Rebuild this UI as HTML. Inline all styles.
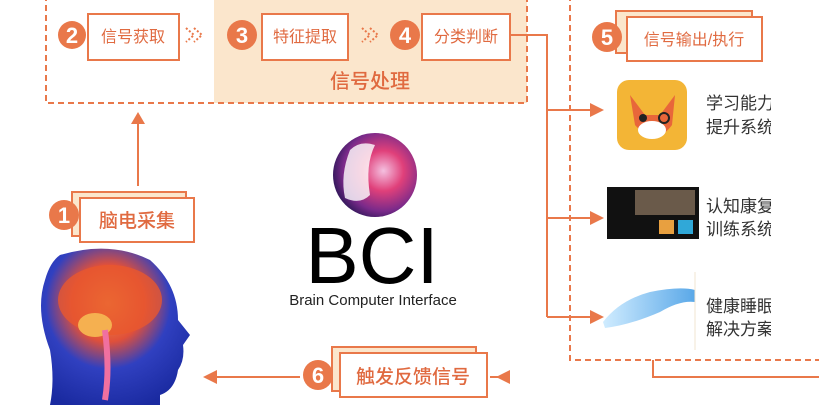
<!DOCTYPE html>
<html><head><meta charset="utf-8"><style>
html,body{margin:0;padding:0;background:#fff;width:819px;height:411px;overflow:hidden}
text{font-family:"Liberation Sans","Noto Sans CJK SC",sans-serif}
</style></head><body>
<svg width="819" height="411" viewBox="0 0 819 411" xmlns="http://www.w3.org/2000/svg">
<defs>
<radialGradient id="sph" cx="0.6" cy="0.45" r="0.6">
<stop offset="0" stop-color="#f4c0e0"/><stop offset="0.4" stop-color="#e0407a"/><stop offset="0.8" stop-color="#7a2a8a"/><stop offset="1" stop-color="#3a1a60"/></radialGradient>
<radialGradient id="head" cx="0.45" cy="0.35" r="0.7">
<stop offset="0" stop-color="#f3a040"/><stop offset="0.35" stop-color="#e0503a"/><stop offset="0.6" stop-color="#3040c0"/><stop offset="1" stop-color="#1a2aa0"/></radialGradient>
<linearGradient id="mask" x1="0" x2="1"><stop offset="0" stop-color="#d0ecff"/><stop offset="1" stop-color="#5aa8e8"/></linearGradient>
</defs>
<rect x="214" y="-5" width="313" height="108" fill="#fbe6cc"/>
<path d="M46 -5 V103 H527 V-5" fill="none" stroke="#e9784a" stroke-width="2" stroke-dasharray="6,4"/>
<path d="M570 -5 V360 H830" fill="none" stroke="#e9784a" stroke-width="2" stroke-dasharray="6,4"/>
<g fill="none" stroke="#e9784a" stroke-width="2">
<rect x="88" y="14" width="91" height="46" fill="#fff"/>
<rect x="262" y="14" width="86" height="46" fill="#fff"/>
<rect x="422" y="14" width="88" height="46" fill="#fff"/>
<rect x="616" y="11" width="136" height="42" fill="#fbe6cc"/>
<rect x="627" y="17" width="135" height="44" fill="#fff"/>
<rect x="72" y="192" width="114" height="44" fill="#fbe6cc"/>
<rect x="80" y="198" width="114" height="44" fill="#fff"/>
<rect x="332" y="347" width="144" height="44" fill="#fbe6cc"/>
<rect x="340" y="353" width="147" height="44" fill="#fff"/>
<path d="M510 35 H547 V317 M547 110 H590 M547 218 H590 M547 317 H590"/>
<path d="M819 377 H653 V360 M490 377 H510"/>
<path d="M300 377 H215"/>
<path d="M138 186 V122"/>
</g>
<g fill="#e9784a">
<polygon points="604,110 590,103 590,117"/>
<polygon points="604,218 590,211 590,225"/>
<polygon points="604,317 590,310 590,324"/>
<polygon points="496,377 510,370 510,384"/>
<polygon points="203,377 217,370 217,384"/>
<polygon points="138,112 131,124 145,124"/>
<circle cx="72" cy="35" r="14"/><circle cx="242" cy="35" r="15"/><circle cx="405" cy="35" r="15"/>
<circle cx="607" cy="37" r="15"/><circle cx="64" cy="215" r="15"/><circle cx="318" cy="375" r="15"/>
</g>
<g fill="#fff" font-size="22" font-weight="bold" text-anchor="middle">
<text x="72" y="43">2</text><text x="242" y="43">3</text><text x="405" y="43">4</text>
<text x="607" y="45">5</text><text x="64" y="223">1</text><text x="318" y="383">6</text>
</g>
<g fill="none" stroke="#e9784a" stroke-width="2" stroke-dasharray="2,2">
<path d="M186 28 L194 35 L186 42 M194 28 L202 35 L194 42"/>
<path d="M362 28 L370 35 L362 42 M370 28 L378 35 L370 42"/>
</g>
<g fill="#e06a40" font-size="16">
<text x="133" y="42" text-anchor="middle">信号获取</text>
<text x="305" y="42" text-anchor="middle">特征提取</text>
<text x="466" y="42" text-anchor="middle">分类判断</text>
<text x="694" y="45" text-anchor="middle" font-size="16">信号输出/执行</text>
<text x="137" y="227" text-anchor="middle" font-size="19" font-weight="500">脑电采集</text>
<text x="413" y="383" text-anchor="middle" font-size="19" font-weight="500">触发反馈信号</text>
<text x="370" y="88" text-anchor="middle" font-size="20" font-weight="500">信号处理</text>
</g>
<rect x="617" y="80" width="70" height="70" rx="12" fill="#f3b536"/>
<path d="M630 95 L645 115 L660 115 L675 95 L672 125 Q655 148 635 125 Z" fill="#e8663a"/>
<ellipse cx="652" cy="130" rx="14" ry="9" fill="#fff"/>
<circle cx="643" cy="118" r="4" fill="#222"/><circle cx="664" cy="118" r="5" fill="none" stroke="#222" stroke-width="2"/>
<rect x="607" y="187" width="92" height="52" fill="#111"/>
<rect x="635" y="190" width="60" height="25" fill="#6a5a4a"/>
<rect x="659" y="220" width="15" height="14" fill="#e8a040"/><rect x="678" y="220" width="15" height="14" fill="#30a8d8"/>
<path d="M603 322 Q620 300 650 292 Q680 286 695 290 L695 302 Q680 300 660 312 Q630 325 605 328 Z" fill="url(#mask)"/>
<line x1="695" y1="272" x2="695" y2="350" stroke="#f0e4d0" stroke-width="1"/>
<svg x="0" y="0" width="771" height="411" overflow="hidden">
<g fill="#333" font-size="17">
<text x="706" y="109">学习能力</text><text x="706" y="133">提升系统</text>
<text x="706" y="212">认知康复</text><text x="706" y="235">训练系统</text>
<text x="706" y="312">健康睡眠</text><text x="706" y="335">解决方案</text>
</g></svg>
<circle cx="375" cy="175" r="42" fill="url(#sph)"/>
<path d="M350 150 Q360 140 375 145 Q365 165 370 195 Q360 205 345 198 Q340 175 350 150Z" fill="#fff" opacity="0.8"/>
<text x="372" y="283" text-anchor="middle" font-size="80" fill="#000">BCI</text>
<text x="373" y="305" text-anchor="middle" font-size="15" fill="#222">Brain Computer Interface</text>
<path d="M60 255 Q110 240 150 260 Q178 285 178 320 L190 335 L183 345 Q185 360 178 370 Q175 390 160 395 L160 405 L50 405 Q55 380 50 350 Q35 310 45 280 Q50 262 60 255Z" fill="url(#head)"/>
<ellipse cx="110" cy="300" rx="52" ry="35" fill="#e8582e" opacity="0.8"/>
<ellipse cx="95" cy="325" rx="17" ry="12" fill="#f5b050"/>
<path d="M105 330 Q110 370 105 400" stroke="#f070a0" stroke-width="6" fill="none"/>
</svg>
</body></html>
